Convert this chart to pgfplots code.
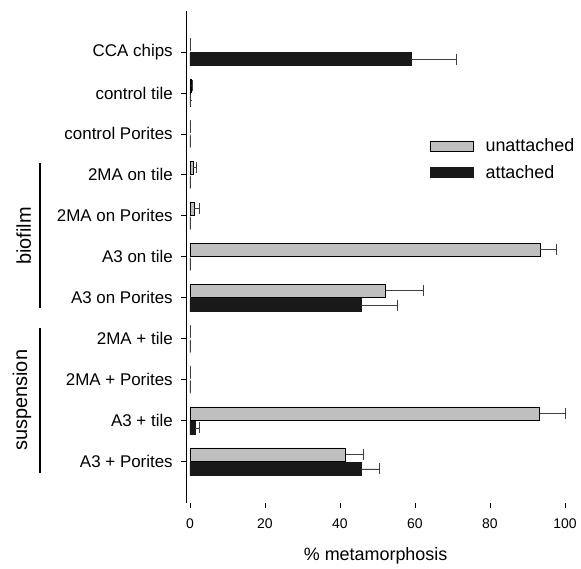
\documentclass[border=0pt]{standalone}
\usepackage{pgfplots}
\pgfplotsset{compat=1.18}
\usepackage{pgfplotstable}
\usepackage{fontspec}
\setmainfont{Liberation Sans}

\pgfplotstableread{
y u ue a ae
10 0 0.01 59 12
9 0.3 0.3 0.2 0.01
8 0 0.2 0 0.01
7 0.8 0.8 0 0.01
6 1.2 1.2 0 0.01
5 93.3 4.3 0 0.01
4 52.2 10 45.6 9.6
3 0 0.01 0 0.01
2 0 0.01 0 0.01
1 93.2 6.8 1.3 1.1
0 41.5 4.7 45.6 4.9
}\datatable

\begin{document}
\begin{tikzpicture}
\begin{axis}[
  scale only axis, width=378.75bp, height=491.64bp,
  xmin=-1, xmax=100, ymin=-1, ymax=11,
  xbar, bar width=13bp,
  axis lines*=left,
  x axis line style={draw=none},
  y axis line style={line width=1.2bp},
  tick align=outside, major tick length=5bp,
  every tick/.style={black, line width=0.8bp},
  xtick={0,20,...,100},
  ytick={0,...,10},
  yticklabels={A3 + Porites, A3 + tile, 2MA + Porites, 2MA + tile, A3 on Porites, A3 on tile, 2MA on Porites, 2MA on tile, control Porites, control tile, CCA chips},
  yticklabel style={font=\fontsize{17}{20}\selectfont, xshift=-5bp},
  xticklabel style={font=\fontsize{14}{16}\selectfont, yshift=-8bp},
  /pgf/number format/assume math mode=true,
  xlabel={\% metamorphosis},
  xlabel style={font=\fontsize{18}{21}\selectfont, yshift=-12bp},
  clip=false,
  legend image code/.code={\draw[#1] (0bp,-5bp) rectangle (43bp,5bp); \path[draw=none, fill=none] (55bp,0bp) coordinate (legtmp);},
  legend style={draw=none, fill=none, inner sep=0pt, at={(axis cs:64,8.03)}, anchor=north west,
    font=\fontsize{18}{21}\selectfont, cells={anchor=west},
    nodes={inner xsep=0bp, inner ysep=6bp}},
  error bars/error mark=|,
  error bars/error bar style={line width=0.6bp, black!75},
  error bars/error mark options={line width=0.8bp, black!75, mark size=5.5bp},
]
\addplot[draw=black, line width=0.7bp, fill=black!25, bar shift=7.25bp,
  error bars/.cd, x dir=plus, x explicit]
  table[x=u, y=y, x error=ue] {\datatable};
\addlegendentry{unattached}
\addplot[draw=black!90, line width=0.7bp, fill=black!90, bar shift=-7.25bp,
  error bars/.cd, x dir=plus, x explicit]
  table[x=a, y=y, x error=ae] {\datatable};
\addlegendentry{attached}

\draw[line width=1.5bp] (axis cs:-40,7.28) -- (axis cs:-40,3.74);
\draw[line width=1.5bp] (axis cs:-40,3.26) -- (axis cs:-40,-0.27);
\node[rotate=90, font=\fontsize{20}{24}\selectfont] at (axis cs:-44.3,5.51) {biofilm};
\node[rotate=90, font=\fontsize{20}{24}\selectfont] at (axis cs:-44.8,1.5) {suspension};

\coordinate (bbsw) at (axis cs:-50.667,-2.619);
\coordinate (bbne) at (axis cs:104.267,11.269);
\end{axis}
\pgfresetboundingbox
\useasboundingbox (bbsw) rectangle (bbne);
\end{tikzpicture}
\end{document}
